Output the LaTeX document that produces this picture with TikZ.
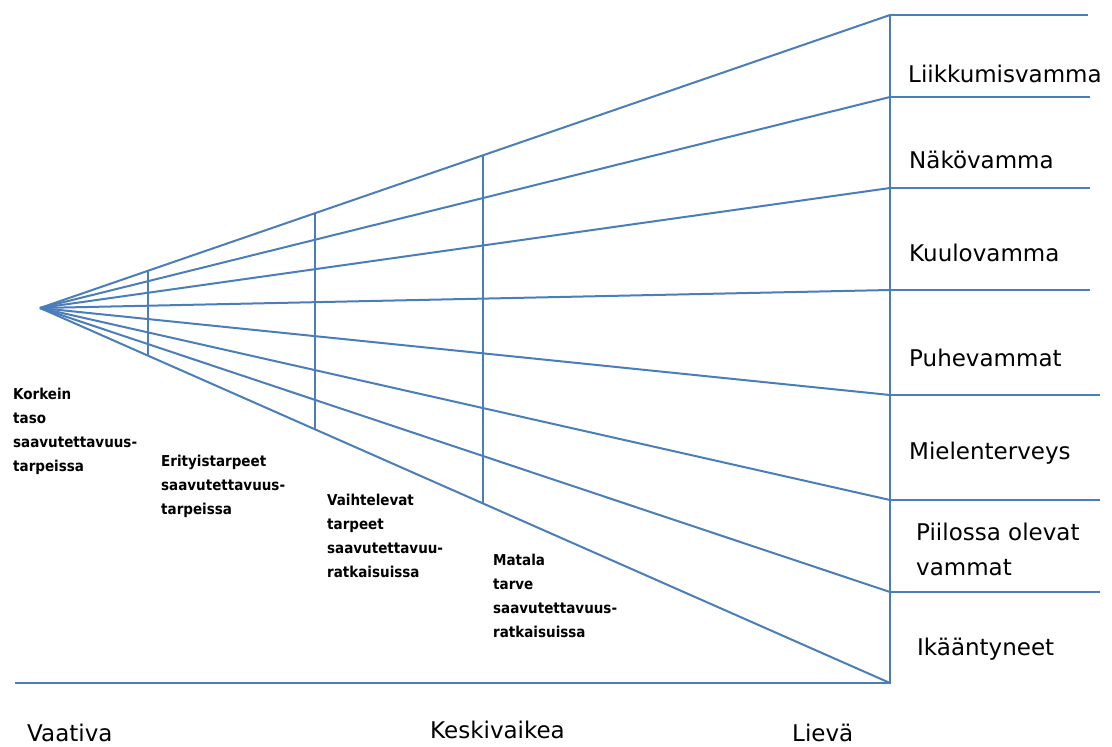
\documentclass[tikz,border=0pt]{standalone}
\usepackage{fontspec}
\setmainfont{DejaVu Sans}
\newfontfamily\narrowfont{DejaVu Sans Condensed}
\usetikzlibrary{calc}
\definecolor{fanblue}{RGB}{74,126,187}
\tikzset{
  fanline/.style={draw=fanblue,line width=2pt},
  grouplabel/.style={anchor=west,inner sep=0pt,align=left,font=\fontsize{23}{35}\selectfont},
  levellabel/.style={anchor=north west,inner sep=0pt,align=left,font=\narrowfont\bfseries\fontsize{15}{24}\selectfont},
  scalelabel/.style={anchor=west,inner sep=0pt,font=\fontsize{23}{27}\selectfont}
}
\begin{document}
\begin{tikzpicture}[x=1pt,y=-1pt]
\useasboundingbox (0,0) rectangle (1112,747);
% apex of the fan and the ends on the right axis
\coordinate (apex) at (40,308);
\draw 	(890,15) coordinate (r0)   (890,97) coordinate (r1)   (890,188) coordinate (r2)
  		(890,290) coordinate (r3)  (890,395) coordinate (r4)  (890,500) coordinate (r5)
  		(890,592) coordinate (r6)  (890,683) coordinate (r7);
\draw 	(1088,15) coordinate (t0)  (1090,97) coordinate (t1)  (1090,188) coordinate (t2)
  		(1090,290) coordinate (t3) (1100,395) coordinate (t4) (1100,500) coordinate (t5)
  		(1100,592) coordinate (t6);
\coordinate (base) at (15,683);
\path[fanline]
    (apex) edge (r0)
    (apex) edge (r1)
    (apex) edge (r2)
    (apex) edge (r3)
    (apex) edge (r4)
    (apex) edge (r5)
    (apex) edge (r6)
    (apex) edge (r7);
\draw[fanline] (t0) -- (r0) -- (r7) -- (base);
\path[fanline]
    (r1) edge (t1)
    (r2) edge (t2)
    (r3) edge (t3)
    (r4) edge (t4)
    (r5) edge (t5)
    (r6) edge (t6);
% cuts across the fan
\draw[fanline] ($(apex)!0.127!(r0)$) coordinate (c1) -- ($(apex)!0.127!(r7)$) coordinate (d1);
\draw[fanline] ($(apex)!0.3235!(r0)$) coordinate (c2) -- ($(apex)!0.3235!(r7)$) coordinate (d2);
\draw[fanline] ($(apex)!0.521!(r0)$) coordinate (c3) -- ($(apex)!0.521!(r7)$) coordinate (d3);
% groups
\node[grouplabel] (g1) at (908,74) {Liikkumisvamma};
\node[grouplabel] (g2) at (909,160) {Näkövamma};
\node[grouplabel] (g3) at (909,253) {Kuulovamma};
\node[grouplabel] (g4) at (909,358) {Puhevammat};
\node[grouplabel] (g5) at (909,453) {Mielenterveys};
\node[grouplabel] (g6) at (916,549) {Piilossa olevat\\vammat};
\node[grouplabel] (g7) at (917,649) {Ikääntyneet};
% levels
\node[levellabel] (l1) at (13,388) {Korkein\\taso\\saavutettavuus-\\tarpeissa};
\node[levellabel] (l2) at (161,455) {Erityistarpeet\\saavutettavuus-\\tarpeissa};
\node[levellabel] (l3) at (327,494) {Vaihtelevat\\tarpeet\\saavutettavuu-\\ratkaisuissa};
\node[levellabel] (l4) at (493,554) {Matala\\tarve\\saavutettavuus-\\ratkaisuissa};
% scale
\node[scalelabel] (s1) at (27,733) {Vaativa};
\node[scalelabel] (s2) at (430,730) {Keskivaikea};
\node[scalelabel] (s3) at (792,733) {Lievä};
\end{tikzpicture}
\end{document}
